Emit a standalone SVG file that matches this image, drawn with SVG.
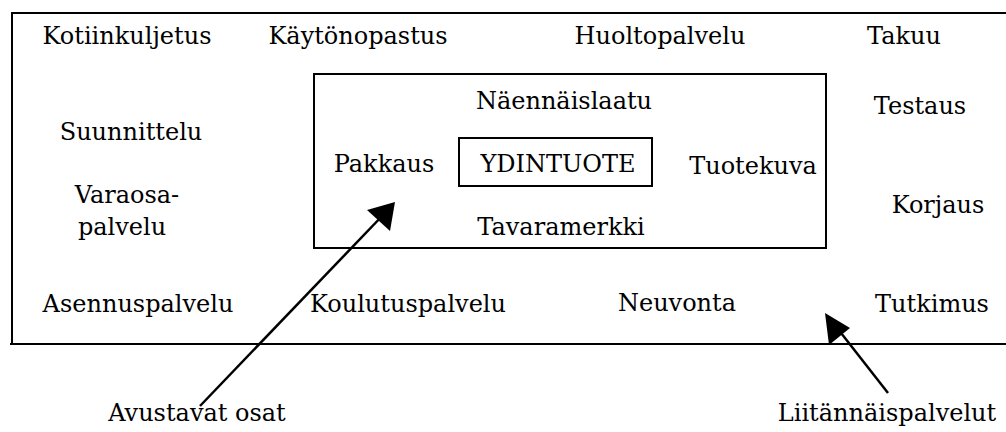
<svg xmlns="http://www.w3.org/2000/svg" width="1006" height="432" viewBox="0 0 1006 432">
<style>
text{font-family:"DejaVu Serif","Liberation Serif",serif;font-size:24px;fill:#000;text-anchor:middle}
.box{fill:none;stroke:#000;stroke-width:2}
.arr{stroke:#000;stroke-width:2.5;fill:none}
</style>
<rect width="1006" height="432" fill="#fff"/>
<g id="outer"><path class="box" d="M1006,13 L12,13 L12,344 M10,344 L1006,344"/></g>
<g id="inner"><rect class="box" x="314" y="74" width="512" height="174"/></g>
<g id="core"><rect class="box" x="459" y="138" width="193" height="48"/><text x="558" y="172">YDINTUOTE</text></g>
<g id="n-kotiinkuljetus"><text x="127" y="44">Kotiinkuljetus</text></g>
<g id="n-kaytonopastus"><text x="358" y="44">Käytönopastus</text></g>
<g id="n-huoltopalvelu"><text x="660" y="44">Huoltopalvelu</text></g>
<g id="n-takuu"><text x="904" y="44">Takuu</text></g>
<g id="n-suunnittelu"><text x="131" y="140">Suunnittelu</text></g>
<g id="n-varaosapalvelu"><text x="127" y="203">Varaosa-</text><text x="122" y="235">palvelu</text></g>
<g id="n-asennuspalvelu"><text x="138" y="312">Asennuspalvelu</text></g>
<g id="n-koulutuspalvelu"><text x="408" y="312">Koulutuspalvelu</text></g>
<g id="n-neuvonta"><text x="677" y="311">Neuvonta</text></g>
<g id="n-tutkimus"><text x="932" y="312">Tutkimus</text></g>
<g id="n-testaus"><text x="920" y="114">Testaus</text></g>
<g id="n-korjaus"><text x="938" y="213">Korjaus</text></g>
<g id="n-naennaislaatu"><text x="564" y="109">Näennäislaatu</text></g>
<g id="n-pakkaus"><text x="384" y="172">Pakkaus</text></g>
<g id="n-tuotekuva"><text x="753" y="174">Tuotekuva</text></g>
<g id="n-tavaramerkki"><text x="561" y="235">Tavaramerkki</text></g>
<g id="n-avustavat"><text x="197" y="421">Avustavat osat</text></g>
<g id="n-liitannais"><text x="887" y="421">Liitännäispalvelut</text></g>
<g id="connectors">
<line class="arr" x1="200" y1="406" x2="384" y2="214"/>
<path d="M395,202 L390,231 L367,210 Z" fill="#000"/>
<line class="arr" x1="888" y1="393" x2="834" y2="324"/>
<path d="M825,313 L850,328 L829,345 Z" fill="#000"/>
</g>
</svg>
